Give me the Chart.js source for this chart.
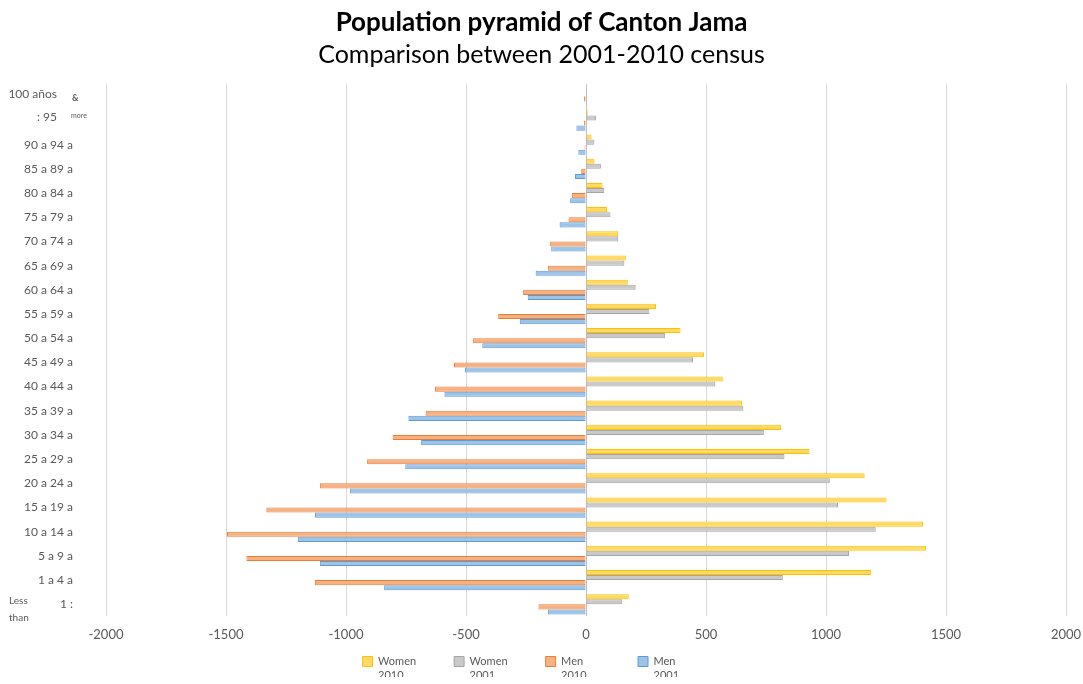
<!DOCTYPE html>
<html>
<head>
<meta charset="utf-8">
<script src="https://cdn.jsdelivr.net/npm/chart.js@4/dist/chart.umd.min.js"></script>
<style>
  body { margin: 0; background: #fff; }
  #wrap { width: 1083px; height: 684px; }
</style>
</head>
<body>
<div id="wrap"><canvas id="pyramid"></canvas></div>
<script>
// age groups, top row first (text as it shows on the axis)
const ageLabels = ['100 años', ': 95', '90 a 94 a', '85 a 89 a', '80 a 84 a', '75 a 79 a', '70 a 74 a',
  '65 a 69 a', '60 a 64 a', '55 a 59 a', '50 a 54 a', '45 a 49 a', '40 a 44 a', '35 a 39 a',
  '30 a 34 a', '25 a 29 a', '20 a 24 a', '15 a 19 a', '10 a 14 a', '5 a 9 a', '1 a 4 a', '1 :'];

// women on the right, men negative on the left
const women2010 = [0, 7, 23, 35, 69, 88, 134, 166, 174, 292, 394, 492, 570, 651, 813, 931, 1161, 1252, 1404, 1417, 1187, 178];
const women2001 = [0, 42, 35, 62, 76, 102, 134, 160, 207, 264, 330, 446, 539, 656, 741, 827, 1016, 1050, 1207, 1096, 820, 151];
const men2010 = [-8, -8, -6, -20, -59, -73, -151, -158, -262, -366, -472, -550, -629, -668, -806, -912, -1109, -1332, -1496, -1415, -1129, -198];
const men2001 = [0, -40, -32, -46, -66, -110, -145, -210, -243, -276, -432, -504, -590, -740, -687, -753, -984, -1129, -1201, -1109, -841, -159];

const seriesNames = ['Women 2010', 'Women 2001', 'Men 2010', 'Men 2001'];
const xTicks = [-2000, -1500, -1000, -500, 0, 500, 1000, 1500, 2000];

const FONT = 'Lato, "Open Sans", sans-serif';
const GREY_TEXT = '#595959';

// top two rows have wrapped labels in the original, drawn by hand
const oddRows = [0, 1];

const axisExtras = {
  id: 'axisExtras',
  afterDraw(chart) {
    const { ctx, chartArea } = chart;
    const y = chart.scales.y;
    const left = chartArea.left;
    ctx.save();
    ctx.fillStyle = GREY_TEXT;
    ctx.textBaseline = 'middle';

    ctx.font = '12px ' + FONT;
    ctx.textAlign = 'right';
    ctx.fillText(ageLabels[0], left - 49, y.getPixelForTick(0) - 2);
    ctx.fillText(ageLabels[1], left - 49, y.getPixelForTick(1) - 3);

    ctx.textAlign = 'left';
    ctx.font = 'bold 9px ' + FONT;
    ctx.fillText('&', left - 34, y.getPixelForTick(0) + 2);
    ctx.font = '7px ' + FONT;
    ctx.fillText('more', left - 35, y.getPixelForTick(0) + 19);
    ctx.font = '10px ' + FONT;
    ctx.fillText('Less', left - 97, y.getPixelForTick(21) - 4);
    ctx.fillText('than', left - 97, y.getPixelForTick(21) + 13);
    ctx.restore();
  }
};

function bars(label, data, fill, line) {
  return {
    label: label,
    data: data,
    backgroundColor: fill,
    borderColor: line,
    borderWidth: 1,
    borderSkipped: false,
    categoryPercentage: 0.84,
    barPercentage: 1.0
  };
}

// legend text split over two lines; "Men" padded so all items are equally wide
const legendPad = { Women: 0, Men: 6 };
function legendText(name) {
  const parts = name.split(' ');
  return [parts[0] + '\u00a0'.repeat(legendPad[parts[0]]), parts[1]];
}

new Chart(document.getElementById('pyramid'), {
  type: 'bar',
  data: {
    labels: ageLabels,
    datasets: [
      bars(seriesNames[0], women2010, '#FFD966', '#FFC000'),
      bars(seriesNames[1], women2001, '#C9C9C9', '#A5A5A5'),
      bars(seriesNames[2], men2010, '#F4B183', '#ED7D31'),
      bars(seriesNames[3], men2001, '#9DC3E6', '#5B9BD5')
    ]
  },
  options: {
    indexAxis: 'y',
    responsive: true,
    maintainAspectRatio: false,
    animation: false,
    layout: { padding: { left: 0, right: 0, top: 0, bottom: 7 } },
    scales: {
      x: {
        min: -2000,
        max: 2000,
        afterBuildTicks(scale) { scale.ticks = xTicks.map(v => ({ value: v })); },
        afterFit(scale) {
          scale.height -= 8;
          scale.paddingRight = 17;
        },
        grid: {
          color: ctx => ctx.tick && ctx.tick.value === 0 ? '#BFBFBF' : '#D9D9D9',
          drawTicks: false
        },
        border: { display: false },
        ticks: {
          color: GREY_TEXT,
          font: { family: FONT, size: 13 },
          padding: 11,
          callback: v => String(v)
        }
      },
      y: {
        grid: { display: false },
        border: { display: false },
        afterFit(scale) { scale.width = 106; },
        ticks: {
          autoSkip: false,
          color: GREY_TEXT,
          font: { family: FONT, size: 12 },
          padding: 25,
          callback: (v, i) => oddRows.includes(i) ? '' : ageLabels[i]
        }
      }
    },
    plugins: {
      title: {
        display: true,
        text: 'Population pyramid of Canton Jama',
        color: '#000',
        font: { family: FONT, size: 26, weight: 'bold' },
        padding: { top: 7, bottom: 2 }
      },
      subtitle: {
        display: true,
        text: 'Comparison between 2001-2010 census',
        color: '#000',
        font: { family: FONT, size: 25, weight: 'normal' },
        padding: { top: 0, bottom: 14 }
      },
      legend: {
        position: 'bottom',
        labels: {
          color: GREY_TEXT,
          font: { family: FONT, size: 11, lineHeight: 1.3 },
          boxWidth: 10,
          boxHeight: 10,
          padding: 10,
          generateLabels(chart) {
            return Chart.defaults.plugins.legend.labels.generateLabels(chart)
              .map(item => Object.assign(item, { text: legendText(item.text) }));
          }
        }
      },
      tooltip: { enabled: false }
    }
  },
  plugins: [axisExtras]
});
</script>
</body>
</html>
